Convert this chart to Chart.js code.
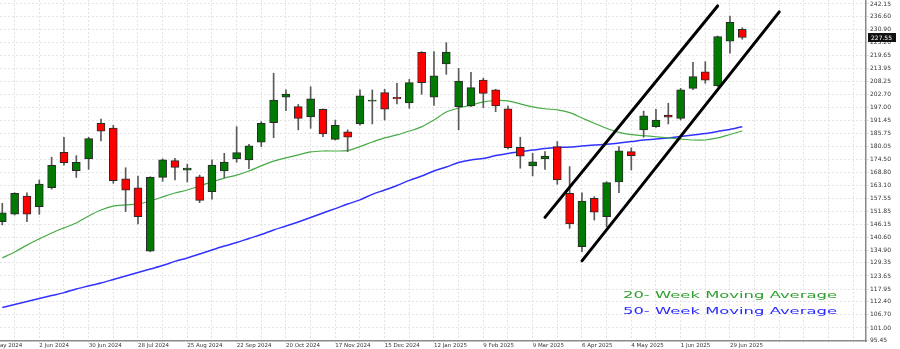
<!DOCTYPE html>
<html>
<head>
<meta charset="utf-8">
<script src="https://cdn.jsdelivr.net/npm/chart.js@4.4.0/dist/chart.umd.min.js"></script>
<style>
  html, body { margin: 0; padding: 0; background: #fff; }
  #wrap { width: 900px; height: 349px; }
</style>
</head>
<body>
<div id="wrap"><canvas id="weeklyChart"></canvas></div>
<script>
// weekly candles, index 0 = week of 12 May 2024, index 60 = week of 6 Jul 2025
const opens = [147.3, 150.6, 158.5, 153.8, 162.1, 177.5, 169.5, 174.6, 190.2, 188.1,
  166.0, 162.1, 134.5, 166.6, 173.9, 169.8, 166.9, 160.4, 169.4, 174.6,
  174.2, 181.9, 190.4, 201.5, 197.4, 193.0, 196.3, 183.2, 186.5, 189.9,
  199.8, 203.5, 201.5, 199.1, 221.1, 201.5, 216.0, 197.4, 197.7, 209.0,
  204.7, 196.5, 179.7, 171.6, 174.7, 180.0, 159.7, 136.4, 157.5, 149.5,
  164.6, 177.8, 187.3, 188.7, 193.8, 192.3, 205.4, 212.6, 206.5, 226.0, 231.1];
const highs = [155.3, 159.9, 159.9, 165.5, 175.4, 184.1, 176.1, 184.1, 192.0, 189.3,
  170.8, 167.2, 166.9, 174.7, 174.9, 172.4, 167.6, 174.2, 177.1, 188.7,
  181.0, 190.9, 212.0, 204.7, 198.4, 206.1, 196.5, 191.6, 187.3, 204.7,
  204.7, 205.0, 207.6, 209.3, 221.4, 221.4, 225.3, 214.1, 212.4, 209.8,
  205.0, 197.7, 184.1, 177.1, 177.8, 182.2, 171.3, 159.9, 158.2, 164.7,
  180.0, 179.5, 195.5, 196.3, 198.9, 205.4, 216.7, 217.0, 228.2, 236.9, 231.8];
const lows = [145.9, 150.2, 147.3, 150.5, 161.5, 171.9, 166.6, 170.1, 182.5, 164.0,
  151.7, 146.3, 134.2, 164.9, 165.5, 164.6, 155.6, 157.1, 166.5, 173.2,
  170.4, 180.0, 183.9, 195.7, 187.3, 188.0, 184.3, 182.9, 177.8, 189.4,
  189.9, 191.6, 198.6, 196.7, 202.8, 198.0, 211.5, 187.3, 197.4, 197.0,
  195.2, 179.0, 170.6, 167.3, 170.1, 163.6, 144.4, 134.2, 148.0, 145.1,
  159.9, 169.8, 184.1, 188.4, 189.9, 191.6, 204.8, 207.6, 206.2, 220.7, 226.8];
const closes = [151.2, 159.7, 150.6, 163.7, 171.9, 173.0, 173.2, 183.5, 186.7, 165.2,
  161.0, 149.5, 166.6, 174.2, 171.0, 170.7, 156.6, 172.0, 173.3, 177.4,
  180.4, 190.2, 200.3, 202.9, 192.3, 200.8, 185.5, 189.3, 184.1, 202.1,
  200.3, 196.3, 200.8, 207.9, 207.9, 210.8, 221.2, 208.6, 205.7, 203.2,
  197.7, 179.5, 175.9, 173.4, 175.9, 165.5, 146.3, 156.3, 151.4, 164.3,
  178.2, 176.1, 193.4, 191.6, 192.8, 204.7, 210.5, 209.0, 227.9, 234.2, 227.55];

const ma20 = [131.5, 134.1, 137.1, 139.8, 142.4, 144.6, 146.7, 149.8, 152.4, 154.1,
  154.6, 155.0, 156.3, 158.1, 159.8, 161.1, 162.9, 164.6, 166.3, 167.6,
  169.4, 171.6, 173.7, 175.1, 176.4, 177.7, 178.1, 178.1, 178.3, 180.0,
  182.0, 183.8, 185.1, 186.8, 188.6, 191.6, 195.1, 196.8, 198.1, 199.5,
  200.1, 199.9, 198.6, 197.3, 196.5, 196.0, 194.8, 192.5, 190.2, 188.0,
  186.2, 185.2, 184.8, 184.3, 183.8, 183.3, 182.9, 182.9, 183.8, 185.3, 186.8];
const ma50 = [109.9, 111.2, 112.5, 113.8, 115.1, 116.4, 118.0, 119.3, 120.6, 122.1,
  123.6, 125.2, 126.7, 128.2, 130.0, 131.5, 133.2, 135.0, 136.7, 138.2,
  140.0, 141.7, 143.7, 145.4, 147.2, 149.1, 151.1, 153.0, 155.0, 156.8,
  159.2, 161.1, 163.1, 165.3, 167.2, 169.4, 171.1, 173.1, 174.2, 174.8,
  176.1, 177.0, 177.9, 178.5, 179.2, 179.6, 179.8, 180.3, 180.7, 181.0,
  181.6, 182.2, 182.9, 183.3, 183.8, 184.4, 185.1, 185.7, 186.6, 187.5, 188.7];

// trend channel drawn on the chart: [week index, price]
const channelUpper = [[44.0, 149.2], [58.0, 241.3]];
const channelLower = [[47.0, 130.2], [63.0, 238.7]];

// x labels every 4 weeks, first one sits at week index -1
const xTickLabels = ['5 May 2024', '2 Jun 2024', '30 Jun 2024', '28 Jul 2024', '25 Aug 2024',
  '22 Sep 2024', '20 Oct 2024', '17 Nov 2024', '15 Dec 2024', '12 Jan 2025', '9 Feb 2025',
  '9 Mar 2025', '6 Apr 2025', '4 May 2025', '1 Jun 2025', '29 Jun 2025'];
const yTicks = [95.45, 101.00, 106.70, 112.40, 117.95, 123.65, 129.35, 134.90, 140.60, 146.15,
  151.85, 157.55, 163.10, 168.80, 174.50, 180.05, 185.75, 191.45, 197.00, 202.70,
  208.25, 213.95, 219.65, 225.20, 230.90, 236.60, 242.15];

const legendLabels = ['20- Week Moving Average', '50- Week Moving Average'];
const legendColors = ['#2f9e2f', '#2a2aff'];

const weekIdx = closes.map((c, i) => i);
const upColor = '#007a00';
const downColor = '#ff0000';

const priceTag = {
  id: 'priceTag',
  afterDraw(chart) {
    const { ctx, scales: { y } } = chart;
    const last = closes[closes.length - 1];
    const py = y.getPixelForValue(last);
    ctx.save();
    ctx.fillStyle = '#111';
    ctx.fillRect(y.left + 2, py - 4.5, 28, 9);
    ctx.fillStyle = '#fff';
    ctx.font = '6px "DejaVu Sans"';
    ctx.textBaseline = 'middle';
    ctx.fillText(last.toFixed(2), y.left + 5, py + 0.5);
    ctx.restore();
  }
};

const maLegend = {
  id: 'maLegend',
  afterDraw(chart) {
    const ctx = chart.ctx;
    ctx.save();
    ctx.font = '8.5px "DejaVu Sans"';
    ctx.textBaseline = 'middle';
    legendLabels.forEach((txt, i) => {
      const w = ctx.measureText(txt).width;
      ctx.save();
      ctx.translate(623, 296 + i * 16);
      ctx.scale(214 / w, 1);
      ctx.fillStyle = legendColors[i];
      ctx.fillText(txt, 0, 0);
      ctx.restore();
    });
    ctx.restore();
  }
};

function zeroPad(axis) {
  axis.paddingTop = 0;
  axis.paddingBottom = 0;
  axis.paddingLeft = 0;
  axis.paddingRight = 0;
}

function createWeeklyChart() {
  const ctx = document.getElementById('weeklyChart').getContext('2d');

  return new Chart(ctx, {
    type: 'bar',
    data: {
      datasets: [
        {
          type: 'line',
          label: '20 week MA',
          data: weekIdx.map(i => ({ x: i, y: ma20[i] })),
          borderColor: 'rgb(70, 170, 70)',
          borderWidth: 1.2,
          pointRadius: 0,
          tension: 0.3,
          order: 3
        },
        {
          type: 'line',
          label: '50 week MA',
          data: weekIdx.map(i => ({ x: i, y: ma50[i] })),
          borderColor: 'rgb(50, 50, 255)',
          borderWidth: 1.5,
          pointRadius: 0,
          tension: 0.3,
          order: 3
        },
        {
          label: 'wicks',
          data: weekIdx.map(i => ({ x: i, y: [lows[i], highs[i]] })),
          backgroundColor: '#5a5a5a',
          barThickness: 1,
          grouped: false,
          order: 2
        },
        {
          label: 'bodies',
          data: weekIdx.map(i => ({ x: i, y: [opens[i], closes[i]] })),
          backgroundColor: weekIdx.map(i => closes[i] >= opens[i] ? upColor : downColor),
          borderColor: '#2a2a2a',
          borderWidth: 1,
          borderSkipped: false,
          barThickness: 8,
          grouped: false,
          order: 1
        },
        {
          type: 'line',
          label: 'channel top',
          data: channelUpper.map(p => ({ x: p[0], y: p[1] })),
          borderColor: '#000',
          borderWidth: 3,
          borderCapStyle: 'round',
          pointRadius: 0,
          order: 0
        },
        {
          type: 'line',
          label: 'channel bottom',
          data: channelLower.map(p => ({ x: p[0], y: p[1] })),
          borderColor: '#000',
          borderWidth: 3,
          borderCapStyle: 'round',
          pointRadius: 0,
          order: 0
        }
      ]
    },
    options: {
      responsive: true,
      maintainAspectRatio: false,
      animation: false,
      layout: { padding: 0 },
      plugins: {
        legend: { display: false },
        tooltip: { enabled: false }
      },
      scales: {
        x: {
          type: 'linear',
          min: -0.1865,
          max: 70.03,
          bounds: 'data',
          offset: false,
          grid: {
            offset: false,
            color: '#e3e3e3',
            lineWidth: 1,
            tickLength: 2
          },
          border: { display: true, color: '#8a8a8a', width: 1.5, dash: [2, 2] },
          afterBuildTicks: (axis) => {
            const t = [];
            for (let v = -1; v <= 69; v += 2) t.push({ value: v });
            axis.ticks = t;
          },
          afterFit: (axis) => {
            axis.height = 8;
            zeroPad(axis);
          },
          ticks: {
            autoSkip: false,
            maxRotation: 0,
            align: 'start',
            padding: 0,
            color: '#333',
            font: { family: 'DejaVu Sans', size: 5.5, lineHeight: 1 },
            callback: function(v) {
              const k = (v + 1) / 4;
              return Number.isInteger(k) && k < xTickLabels.length ? xTickLabels[k] : '';
            }
          }
        },
        y: {
          position: 'right',
          min: 95.32,
          max: 243.89,
          bounds: 'data',
          grid: {
            color: '#e3e3e3',
            lineWidth: 1,
            tickLength: 3
          },
          border: { display: true, color: '#8a8a8a', width: 1.5, dash: [2, 2] },
          afterBuildTicks: (axis) => {
            axis.ticks = yTicks.map(v => ({ value: v }));
          },
          afterFit: (axis) => {
            axis.width = 34;
            zeroPad(axis);
          },
          ticks: {
            padding: 1,
            color: '#333',
            font: { family: 'DejaVu Sans', size: 6 },
            callback: function(v) {
              return v.toFixed(2);
            }
          }
        }
      }
    },
    plugins: [priceTag, maLegend]
  });
}

document.addEventListener('DOMContentLoaded', function() {
  if (document.getElementById('weeklyChart')) {
    createWeeklyChart();
  }
});
</script>
</body>
</html>
